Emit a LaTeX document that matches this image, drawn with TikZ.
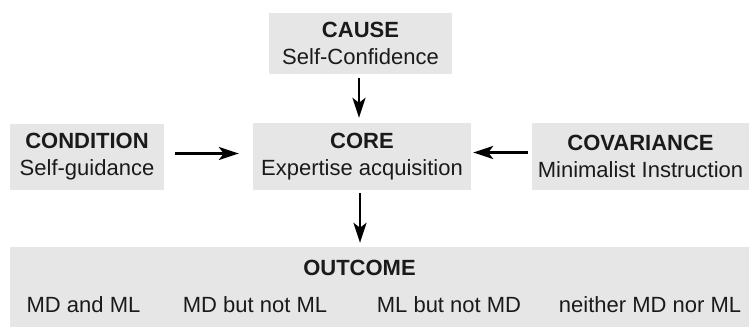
\documentclass[tikz,border=0pt]{standalone}
\usepackage{fontspec}
\setmainfont{Liberation Sans}
\usetikzlibrary{arrows.meta}
\definecolor{boxgray}{HTML}{E6E6E6}
\definecolor{txt}{HTML}{1A1A1A}
\begin{document}
\begin{tikzpicture}[x=1pt,y=-1pt,
  every node/.style={text=txt,font=\fontsize{22}{27}\selectfont},
  graybox/.style={fill=boxgray,draw=none,inner sep=0pt,align=center},
  conn/.style={draw=black,line width=2.4pt,-{Stealth[length=20pt,width=13pt,inset=5pt]}}]
\useasboundingbox (0,0) rectangle (749,327);
\node[graybox,minimum width=183pt,minimum height=61pt] (cause) at (360.5,43.5)
  {\textbf{CAUSE}\\Self-Confidence};
\node[graybox,minimum width=154pt,minimum height=66pt] (condition) at (87,156.5)
  {\textbf{CONDITION}\\Self-guidance};
\node[graybox,minimum width=218pt,minimum height=67pt] (core) at (362,156.5)
  {\textbf{CORE}\\Expertise acquisition};
\node[graybox,minimum width=217pt,minimum height=67pt] (covar) at (640.5,156.5)
  {\textbf{COVARIANCE}\\Minimalist Instruction};
\node[graybox,minimum width=739pt,minimum height=80pt] (outcome) at (379.5,287) {};
\node (otitle) at (359.5,268) {\textbf{OUTCOME}};
\node (o1) at (83.5,305) {MD and ML};
\node (o2) at (255,305) {MD but not ML};
\node (o3) at (449,305) {ML but not MD};
\node (o4) at (650,305) {neither MD nor ML};
\draw[conn] ([xshift=-1.5pt,yshift=-4pt]cause.south) -- ([xshift=-3pt,yshift=5pt]core.north);
\draw[conn] ([xshift=11pt,yshift=3pt]condition.east) -- ([xshift=-14pt,yshift=3pt]core.west);
\draw[conn] ([xshift=-4pt,yshift=4pt]covar.west) -- ([xshift=2pt,yshift=4pt]core.east);
\draw[conn] ([xshift=-2pt,yshift=-3pt]core.south) -- ([xshift=-19.5pt,yshift=4pt]outcome.north);
\end{tikzpicture}
\end{document}
